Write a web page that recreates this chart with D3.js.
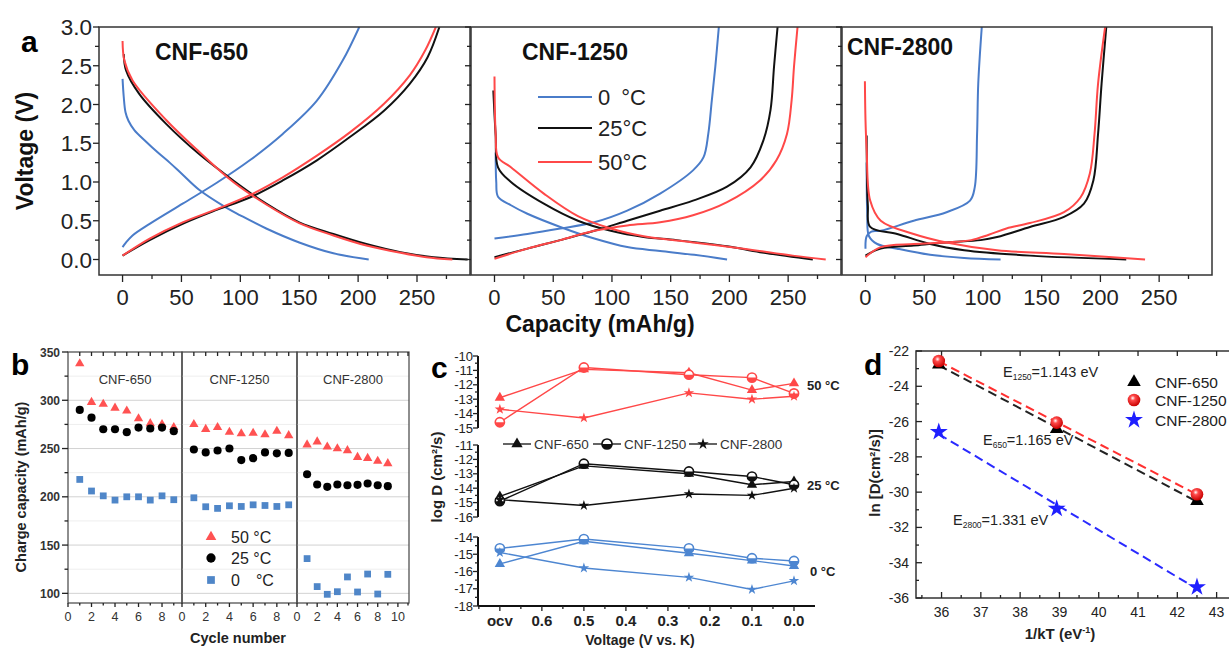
<!DOCTYPE html>
<html>
<head>
<meta charset="utf-8">
<script src="https://cdn.jsdelivr.net/npm/d3@7"></script>
<style>
  body { margin: 0; background: #fff; }
  svg text { font-family: "Liberation Sans", Arial, sans-serif; }
</style>
</head>
<body>
<svg id="fig" width="1229" height="648"></svg>
<script>
// ---------- panel a : voltage profiles [capacity mAh/g, voltage V] ----------
const a650_0C_dis  = [[0,2.33],[1,2.1],[2.5,1.9],[5,1.79],[10,1.67],[20,1.52],[30,1.38],[40,1.25],[50,1.11],[65,0.9],[88,0.67],[100,0.57],[122,0.4],[150,0.22],[179,0.08],[209,0]];
const a650_0C_chg  = [[0,0.16],[3,0.22],[8.5,0.31],[23,0.46],[51,0.72],[80,0.99],[108,1.28],[136,1.62],[165,2.05],[187,2.57],[201,3.0]];
const a650_25C_dis = [[1,2.65],[3,2.44],[14,2.14],[37,1.75],[65,1.36],[94,1.02],[122,0.72],[150,0.48],[179,0.33],[207,0.2],[236,0.095],[264,0.03],[293,0]];
const a650_25C_chg = [[0,0.05],[23,0.25],[51,0.46],[80,0.64],[108,0.8],[136,1.02],[165,1.28],[193,1.58],[222,1.92],[244,2.27],[259,2.61],[269,3.0]];
const a650_50C_dis = [[0,2.82],[1.5,2.57],[8.5,2.31],[37,1.8],[65,1.39],[94,1.0],[122,0.71],[150,0.47],[179,0.31],[207,0.18],[236,0.086],[258,0.03],[280,0]];
const a650_50C_chg = [[0,0.05],[23,0.27],[51,0.48],[80,0.65],[108,0.83],[136,1.06],[165,1.34],[193,1.64],[222,2.01],[244,2.38],[257,2.7],[266,3.0]];

const a1250_0C_dis  = [[1,1.38],[1.5,1.0],[3,0.81],[14,0.7],[28,0.59],[56,0.42],[85,0.27],[113,0.16],[141,0.11],[170,0.06],[198,0]];
const a1250_0C_chg  = [[0,0.27],[28,0.33],[56,0.4],[85,0.48],[113,0.63],[141,0.85],[169,1.15],[178,1.32],[182,1.62],[185,2.05],[188,2.49],[191,3.0]];
const a1250_25C_dis = [[-1,2.18],[1,1.6],[3,1.19],[14,1.0],[42,0.72],[71,0.5],[99,0.37],[127,0.29],[155,0.25],[198,0.17],[226,0.095],[271,0]];
const a1250_25C_chg = [[0,0.03],[28,0.14],[56,0.25],[85,0.37],[113,0.5],[141,0.63],[169,0.76],[198,0.94],[218,1.19],[229,1.54],[235,1.93],[238,2.49],[241,3.0]];
const a1250_50C_dis = [[0,2.36],[1,1.62],[3,1.32],[14,1.19],[42,0.85],[71,0.56],[99,0.4],[127,0.3],[169,0.22],[212,0.14],[254,0.05],[282,0]];
const a1250_50C_chg = [[0,0.01],[28,0.14],[56,0.25],[85,0.37],[113,0.44],[141,0.48],[169,0.57],[198,0.74],[226,1.02],[240,1.28],[249,1.62],[253,2.06],[255,2.49],[258,3.0]];

const a2800_0C_dis  = [[1,1.25],[1.5,0.6],[3,0.3],[10,0.2],[27,0.14],[55,0.06],[84,0.02],[115,0]];
const a2800_0C_chg  = [[0,0.14],[1,0.3],[5,0.36],[13,0.37],[41,0.5],[69,0.61],[89,0.76],[93,0.93],[95,1.62],[96,2.27],[99,3.0]];
const a2800_25C_dis = [[1,1.6],[2,0.7],[4,0.42],[27,0.33],[55,0.2],[84,0.12],[140,0.05],[222,0]];
const a2800_25C_chg = [[0,0.05],[13,0.14],[41,0.18],[69,0.22],[98,0.25],[112,0.29],[140,0.42],[169,0.55],[186,0.72],[194,1.02],[198,1.62],[201,2.27],[205,3.0]];
const a2800_50C_dis = [[-0.5,2.3],[0,1.8],[1,1.41],[4,0.76],[13,0.5],[41,0.33],[69,0.22],[112,0.12],[169,0.07],[238,0]];
const a2800_50C_chg = [[0,0.03],[13,0.16],[41,0.2],[69,0.22],[90,0.25],[105,0.32],[120,0.4],[140,0.47],[169,0.61],[183,0.8],[191,1.11],[195,1.62],[198,2.27],[204,3.0]];

const tempLabels = ["0\u2002°C", "25°C", "50°C"];

// ---------- panel b : charge capacity vs cycle ----------
const cycles = [1,2,3,4,5,6,7,8,9];
const b650_50C  = [338,298,296,292,289,281,276,275,272];
const b650_25C  = [290,282,270,270,267,271.7,270.7,271.7,268];
const b650_0C   = [218,206,201,196.6,200,200,196.6,201,197];
const b1250_50C = [275,270,272,267,265.5,266,264.5,268,263.5];
const b1250_25C = [249,246,248,250,238,240,246,245,245.5];
const b1250_0C  = [199,189.7,188,190.7,190,191.7,191,190,191.7];
const b2800_50C = [254,257,251.7,250,248,241,240,237,234.5];
const b2800_25C = [223.4,212.8,210.3,212.8,212,212.4,213.8,212,211];
const b2800_0C  = [136,107,99,101.7,117,101.4,120,99.3,119.7];

// ---------- panel c : log D vs voltage ----------
const cVolt = [0.7, 0.5, 0.25, 0.1, 0.0];   // 0.7 = ocv
const cXTicks = [0.7,0.6,0.5,0.4,0.3,0.2,0.1,0.0];
const cXLabels = ["ocv","0.6","0.5","0.4","0.3","0.2","0.1","0.0"];
const c50_650  = [-12.9,-10.93,-11.16,-12.37,-11.9];
const c50_1250 = [-14.6,-10.8,-11.3,-11.5,-12.6];
const c50_2800 = [-13.7,-14.3,-12.56,-13.0,-12.8];
const c25_650  = [-14.57,-12.45,-13.0,-13.76,-13.53];
const c25_1250 = [-14.9,-12.3,-12.84,-13.19,-13.76];
const c25_2800 = [-14.8,-15.2,-14.4,-14.5,-14.0];
const c0_650   = [-15.56,-14.25,-14.94,-15.37,-15.68];
const c0_1250  = [-14.66,-14.12,-14.66,-15.23,-15.39];
const c0_2800  = [-14.9,-15.8,-16.34,-17.04,-16.54];

// ---------- panel d : Arrhenius ----------
const invKT = [35.93, 38.93, 42.5];
const d650  = [-22.77,-26.42,-30.5];
const d1250 = [-22.57,-26.06,-30.12];
const d2800 = [-26.59,-30.94,-35.38];
const dNames = ["CNF-650","CNF-1250","CNF-2800"];

const BLUE = "#4a7cc9", RED = "#ff4848", BLACK = "#111";
const FONT_COL = "#222";

const svg = d3.select("#fig");

function ticks(g, scale, vals, orient, len, pos) {
  // simple tick drawer: orient gives direction from the axis line
  vals.forEach(v => {
    const p = scale(v);
    let l;
    if (orient === "left")   l = [pos, p, pos - len, p];
    if (orient === "right")  l = [pos, p, pos + len, p];
    if (orient === "bottom") l = [p, pos, p, pos + len];
    if (orient === "top")    l = [p, pos, p, pos - len];
    g.append("line").attr("x1", l[0]).attr("y1", l[1]).attr("x2", l[2]).attr("y2", l[3])
      .attr("stroke", "#222").attr("stroke-width", 1.3);
  });
}
const range = (a, b, s) => d3.range(a, b + s / 2, s);

// ================= PANEL A =================
const aTop = 27, aBot = 275;
const yA = d3.scaleLinear().domain([-0.2, 3.0]).range([aBot, aTop]);
const aPanels = [
  { x0: 99,  x1: 470,  name: "CNF-650",  nx: 155, ny: 60,
    curves: [[a650_0C_dis, BLUE], [a650_0C_chg, BLUE], [a650_25C_dis, BLACK], [a650_25C_chg, BLACK], [a650_50C_dis, RED], [a650_50C_chg, RED]] },
  { x0: 471, x1: 841,  name: "CNF-1250", nx: 522, ny: 60,
    curves: [[a1250_0C_dis, BLUE], [a1250_0C_chg, BLUE], [a1250_25C_dis, BLACK], [a1250_25C_chg, BLACK], [a1250_50C_dis, RED], [a1250_50C_chg, RED]] },
  { x0: 842, x1: 1212, name: "CNF-2800", nx: 847, ny: 55,
    curves: [[a2800_0C_dis, BLUE], [a2800_0C_chg, BLUE], [a2800_25C_dis, BLACK], [a2800_25C_chg, BLACK], [a2800_50C_dis, RED], [a2800_50C_chg, RED]] }
];

aPanels.forEach((p, i) => {
  const g = svg.append("g");
  const x = d3.scaleLinear().domain([-20, 295]).range([p.x0, p.x1]);
  const clipId = "clipA" + i;
  svg.append("clipPath").attr("id", clipId).append("rect")
    .attr("x", p.x0).attr("y", aTop).attr("width", p.x1 - p.x0).attr("height", aBot - aTop);
  const line = d3.line().x(d => x(d[0])).y(d => yA(d[1])).curve(d3.curveCatmullRom.alpha(0.5));
  const cg = g.append("g").attr("clip-path", `url(#${clipId})`);
  p.curves.forEach(c => {
    cg.append("path").attr("d", line(c[0])).attr("fill", "none")
      .attr("stroke", c[1]).attr("stroke-width", 2);
  });
  g.append("rect").attr("x", p.x0).attr("y", aTop).attr("width", p.x1 - p.x0).attr("height", aBot - aTop)
    .attr("fill", "none").attr("stroke", "#333").attr("stroke-width", 1.5);
  // x ticks
  ticks(g, x, range(0, 250, 50), "bottom", 7, aBot);
  ticks(g, x, range(25, 275, 50), "bottom", 4, aBot);
  range(0, 250, 50).forEach(v => {
    g.append("text").attr("x", x(v)).attr("y", 305).attr("text-anchor", "middle")
      .attr("font-size", 22).attr("fill", FONT_COL).text(v);
  });
  // y ticks
  ticks(g, yA, range(0, 3, 0.5), "left", 6, p.x0);
  ticks(g, yA, range(0.25, 2.75, 0.5), "left", 4, p.x0);
  if (i === 0) {
    range(0, 3, 0.5).forEach(v => {
      g.append("text").attr("x", 92).attr("y", yA(v) + 8).attr("text-anchor", "end")
        .attr("font-size", 22.5).attr("fill", FONT_COL).text(d3.format(".1f")(v));
    });
  }
  g.append("text").attr("x", p.nx).attr("y", p.ny).attr("font-size", 23).attr("font-weight", "bold")
    .attr("fill", "#111").text(p.name);
});

// legend of panel a (in middle panel)
[BLUE, BLACK, RED].forEach((c, i) => {
  const yy = [97, 128, 162][i];
  svg.append("line").attr("x1", 538).attr("x2", 592).attr("y1", yy).attr("y2", yy)
    .attr("stroke", c).attr("stroke-width", 2);
  svg.append("text").attr("x", 598).attr("y", yy + 8).attr("font-size", 22).attr("fill", FONT_COL)
    .text(tempLabels[i]);
});
svg.append("text").attr("x", 21).attr("y", 52).attr("font-size", 30).attr("font-weight", "bold").text("a");
svg.append("text").attr("transform", "translate(33,151) rotate(-90)").attr("text-anchor", "middle")
  .attr("font-size", 23).attr("font-weight", "bold").attr("fill", "#111").text("Voltage (V)");
svg.append("text").attr("x", 600).attr("y", 332).attr("text-anchor", "middle")
  .attr("font-size", 23).attr("font-weight", "bold").attr("fill", "#111").text("Capacity (mAh/g)");

// ================= PANEL B =================
const bTop = 352, bBot = 603;
const yB = d3.scaleLinear().domain([90, 350]).range([bBot, bTop]);
const bPanels = [
  { x0: 68,  x1: 182, dmax: 9.7,  name: "CNF-650",  s: [b650_50C, b650_25C, b650_0C] },
  { x0: 182, x1: 297, dmax: 9.7,  name: "CNF-1250", s: [b1250_50C, b1250_25C, b1250_0C] },
  { x0: 297, x1: 409, dmax: 11.1, name: "CNF-2800", s: [b2800_50C, b2800_25C, b2800_0C] }
];
const bSym = [
  { type: d3.symbolTriangle, size: 38, color: "#ff5252" },
  { type: d3.symbolCircle,   size: 52, color: "#000" },
  { type: d3.symbolSquare,   size: 46, color: "#4f86c8" }
];
bPanels.forEach((p, i) => {
  const g = svg.append("g");
  const x = d3.scaleLinear().domain([0, p.dmax]).range([p.x0, p.x1]);
  // grid
  range(100, 300, 50).forEach(v => g.append("line").attr("x1", p.x0).attr("x2", p.x1)
    .attr("y1", yB(v)).attr("y2", yB(v)).attr("stroke", "#d2d2d2").attr("stroke-width", 1));
  range(125, 325, 50).forEach(v => g.append("line").attr("x1", p.x0).attr("x2", p.x1)
    .attr("y1", yB(v)).attr("y2", yB(v)).attr("stroke", "#eeeeee").attr("stroke-width", 1));
  g.append("rect").attr("x", p.x0).attr("y", bTop).attr("width", p.x1 - p.x0).attr("height", bBot - bTop)
    .attr("fill", "none").attr("stroke", "#444").attr("stroke-width", 1.2);
  const maxT = Math.floor(p.dmax);
  ticks(g, x, range(1, maxT, 1), "bottom", 4, bTop);
  ticks(g, x, range(0, maxT, 2), "bottom", 4, bBot);
  ticks(g, x, range(1, maxT, 2), "bottom", 2.5, bBot);
  range(0, maxT, 2).forEach(v => g.append("text").attr("x", x(v)).attr("y", 621)
    .attr("text-anchor", "middle").attr("font-size", 12.5).attr("fill", "#333").text(v));
  p.s.forEach((vals, k) => {
    g.selectAll(null).data(cycles).enter().append("path")
      .attr("d", d3.symbol().type(bSym[k].type).size(bSym[k].size))
      .attr("transform", (d, j) => `translate(${x(d)},${yB(vals[j])})`)
      .attr("fill", bSym[k].color);
  });
  g.append("text").attr("x", (p.x0 + p.x1) / 2).attr("y", 384)
    .attr("text-anchor", "middle").attr("font-size", 13).attr("fill", "#333").text(p.name);
});
{
  const g = svg.append("g");
  ticks(g, yB, range(100, 350, 50), "left", 6, 68);
  ticks(g, yB, range(125, 325, 50), "left", 3.5, 68);
  range(100, 350, 50).forEach(v => g.append("text").attr("x", 60).attr("y", yB(v) + 4.5)
    .attr("text-anchor", "end").attr("font-size", 12).attr("font-weight", "bold").attr("fill", "#333").text(v));
  // legend
  const labs = ["50 °C", "25 °C", "0\u2002\u2002°C"];
  [537, 558, 580].forEach((yy, k) => {
    g.append("path").attr("d", d3.symbol().type(bSym[k].type).size(bSym[k].size * 1.3))
      .attr("transform", `translate(211,${yy})`).attr("fill", bSym[k].color);
    g.append("text").attr("x", 231).attr("y", yy + 6).attr("font-size", 16).attr("fill", "#222").text(labs[k]);
  });
  g.append("text").attr("x", 11).attr("y", 375).attr("font-size", 30).attr("font-weight", "bold").text("b");
  g.append("text").attr("transform", "translate(26,487) rotate(-90)").attr("text-anchor", "middle")
    .attr("font-size", 14.5).attr("font-weight", "bold").attr("fill", "#222").text("Charge capacity (mAh/g)");
  g.append("text").attr("x", 238).attr("y", 643).attr("text-anchor", "middle")
    .attr("font-size", 14.5).attr("font-weight", "bold").attr("fill", "#222").text("Cycle number");
}

// ================= PANEL C =================
const xC = d3.scaleLinear().domain([0.752, -0.05]).range([478, 815]);
const cSubs = [
  { dom: [-15, -10], rng: [428, 356], color: RED,   s: [c50_650, c50_1250, c50_2800], lab: "50 °C", lx: 807, ly: 390 },
  { dom: [-16, -11], rng: [517, 445], color: BLACK, s: [c25_650, c25_1250, c25_2800], lab: "25 °C", lx: 807, ly: 490 },
  { dom: [-18, -14], rng: [606, 537], color: "#4d86d1", s: [c0_650, c0_1250, c0_2800], lab: "0 °C", lx: 810, ly: 576 }
];
function cMarker(g, k, cx, cy, color, scale) {
  const sc = scale || 1;
  if (k === 0) {
    g.append("path").attr("d", d3.symbol().type(d3.symbolTriangle).size(46 * sc * sc))
      .attr("transform", `translate(${cx},${cy})`).attr("fill", color);
  } else if (k === 1) {
    const r = 4.6 * sc;
    g.append("circle").attr("cx", cx).attr("cy", cy).attr("r", r).attr("fill", "#fff")
      .attr("stroke", color).attr("stroke-width", 1.6);
    g.append("path").attr("d", `M${cx - r},${cy} A${r},${r} 0 0 0 ${cx + r},${cy} Z`).attr("fill", color);
  } else {
    g.append("path").attr("d", d3.symbol().type(d3.symbolStar).size(34 * sc * sc))
      .attr("transform", `translate(${cx},${cy})`).attr("fill", color);
  }
}
cSubs.forEach(sub => {
  const g = svg.append("g");
  const y = d3.scaleLinear().domain(sub.dom).range(sub.rng);
  g.append("line").attr("x1", 478).attr("x2", 478).attr("y1", sub.rng[1]).attr("y2", sub.rng[0])
    .attr("stroke", "#111").attr("stroke-width", 2);
  ticks(g, y, range(sub.dom[0], sub.dom[1], 1), "left", 5, 478);
  ticks(g, y, range(sub.dom[0] + 0.5, sub.dom[1] - 0.5, 1), "left", 3, 478);
  range(sub.dom[0], sub.dom[1], 1).forEach(v => g.append("text").attr("x", 473).attr("y", y(v) + 4.5)
    .attr("text-anchor", "end").attr("font-size", 13).attr("fill", "#222").text(String(v)));
  const line = d3.line().x((d, j) => xC(cVolt[j])).y(d => y(d));
  sub.s.forEach(vals => {
    g.append("path").attr("d", line(vals)).attr("fill", "none").attr("stroke", sub.color).attr("stroke-width", 1.4);
  });
  sub.s.forEach((vals, k) => {
    vals.forEach((v, j) => cMarker(g, k, xC(cVolt[j]), y(v), sub.color));
  });
  g.append("text").attr("x", sub.lx).attr("y", sub.ly).attr("font-size", 13).attr("font-weight", "bold")
    .attr("fill", "#222").text(sub.lab);
});
{
  const g = svg.append("g");
  g.append("line").attr("x1", 478).attr("x2", 815).attr("y1", 606).attr("y2", 606).attr("stroke", "#111").attr("stroke-width", 2);
  ticks(g, xC, range(0, 0.7, 0.1), "bottom", 5, 606);
  ticks(g, xC, range(0.05, 0.75, 0.1), "bottom", 3, 606);
  cXTicks.forEach((v, j) => g.append("text").attr("x", xC(v)).attr("y", 626).attr("text-anchor", "middle")
    .attr("font-size", 15).attr("font-weight", "bold").attr("fill", "#222").text(cXLabels[j]));
  // legend
  const names = ["CNF-650", "CNF-1250", "CNF-2800"];
  [503, 593, 689].forEach((lx, k) => {
    g.append("line").attr("x1", lx).attr("x2", lx + 28).attr("y1", 444).attr("y2", 444).attr("stroke", "#111").attr("stroke-width", 1.3);
    cMarker(g, k, lx + 14, 444, "#111", 1.1);
    g.append("text").attr("x", lx + 31).attr("y", 449).attr("font-size", 13.5).attr("fill", "#333").text(names[k]);
  });
  g.append("text").attr("x", 431).attr("y", 378).attr("font-size", 30).attr("font-weight", "bold").text("c");
  g.append("text").attr("transform", "translate(442,477) rotate(-90)").attr("text-anchor", "middle")
    .attr("font-size", 15).attr("font-weight", "bold").attr("fill", "#222").text("log D (cm²/s)");
  g.append("text").attr("x", 640).attr("y", 645).attr("text-anchor", "middle")
    .attr("font-size", 14).attr("font-weight", "bold").attr("fill", "#222").text("Voltage (V vs. K)");
}

// ================= PANEL D =================
const xD = d3.scaleLinear().domain([35.35, 43.45]).range([916, 1234.3]);
const yD = d3.scaleLinear().domain([-36, -22]).range([598, 351]);
{
  const defs = svg.append("defs");
  const grad = defs.append("radialGradient").attr("id", "redBall").attr("cx", "40%").attr("cy", "35%").attr("r", "65%");
  grad.append("stop").attr("offset", "0%").attr("stop-color", "#fff");
  grad.append("stop").attr("offset", "30%").attr("stop-color", "#ff4a4a");
  grad.append("stop").attr("offset", "100%").attr("stop-color", "#c80000");

  const g = svg.append("g");
  g.append("rect").attr("x", 916).attr("y", 351).attr("width", 330).attr("height", 247)
    .attr("fill", "none").attr("stroke", "#333").attr("stroke-width", 1.5);
  ticks(g, yD, range(-36, -22, 2), "right", 6, 916);
  ticks(g, yD, range(-35, -23, 2), "right", 3, 916);
  ticks(g, xD, range(36, 43, 1), "top", 6, 598);
  ticks(g, xD, range(35.5, 43, 1), "top", 3, 598);
  ticks(g, xD, range(36, 43, 1), "bottom", 5, 351);
  range(-36, -22, 2).forEach(v => g.append("text").attr("x", 909).attr("y", yD(v) + 5)
    .attr("text-anchor", "end").attr("font-size", 14).attr("fill", "#222").text(String(v)));
  range(36, 43, 1).forEach(v => g.append("text").attr("x", xD(v)).attr("y", 617)
    .attr("text-anchor", "middle").attr("font-size", 14).attr("fill", "#222").text(v));

  const series = [
    { vals: d650,  color: "#222" },
    { vals: d1250, color: "#ff3030" },
    { vals: d2800, color: "#2a2aff" }
  ];
  // least-squares fit lines (dashed)
  series.forEach(s => {
    const mx = d3.mean(invKT), my = d3.mean(s.vals);
    const slope = d3.sum(invKT, (xv, j) => (xv - mx) * (s.vals[j] - my)) / d3.sum(invKT, xv => (xv - mx) ** 2);
    const b = my - slope * mx;
    const x1 = invKT[0], x2 = invKT[invKT.length - 1];
    g.append("line").attr("x1", xD(x1)).attr("y1", yD(slope * x1 + b)).attr("x2", xD(x2)).attr("y2", yD(slope * x2 + b))
      .attr("stroke", s.color).attr("stroke-width", 2).attr("stroke-dasharray", "9,5");
  });
  function dMarker(k, cx, cy) {
    if (k === 0) g.append("path").attr("d", d3.symbol().type(d3.symbolTriangle).size(80))
      .attr("transform", `translate(${cx},${cy})`).attr("fill", "#000");
    else if (k === 1) g.append("circle").attr("cx", cx).attr("cy", cy).attr("r", 6.3).attr("fill", "url(#redBall)");
    else g.append("path").attr("d", d3.symbol().type(d3.symbolStar).size(100))
      .attr("transform", `translate(${cx},${cy})`).attr("fill", "#1f1fff");
  }
  series.forEach((s, k) => s.vals.forEach((v, j) => dMarker(k, xD(invKT[j]), yD(v))));
  // legend
  [382, 400, 420].forEach((yy, k) => {
    dMarker(k, 1134, yy);
    g.append("text").attr("x", 1155).attr("y", yy + 6).attr("font-size", 15.5).attr("fill", "#222").text(dNames[k]);
  });
  // annotations
  const ann = [["1250", "=1.143 eV", 1003, 377], ["650", "=1.165 eV", 983, 445], ["2800", "=1.331 eV", 953, 525]];
  ann.forEach(a => {
    const t = g.append("text").attr("x", a[2]).attr("y", a[3]).attr("font-size", 14.5).attr("fill", "#222");
    t.append("tspan").text("E");
    t.append("tspan").attr("font-size", 8.5).attr("dy", 3).text(a[0]);
    t.append("tspan").attr("dy", -3).text(a[1]);
  });
  g.append("text").attr("x", 864).attr("y", 375).attr("font-size", 30).attr("font-weight", "bold").text("d");
  g.append("text").attr("transform", "translate(880,473) rotate(-90)").attr("text-anchor", "middle")
    .attr("font-size", 15).attr("font-weight", "bold").attr("fill", "#222").text("ln [D(cm²/s)]");
  const xl = g.append("text").attr("x", 1060).attr("y", 639).attr("text-anchor", "middle")
    .attr("font-size", 15).attr("font-weight", "bold").attr("fill", "#222");
  xl.append("tspan").text("1/kT (eV");
  xl.append("tspan").attr("font-size", 9).attr("dy", -6).text("-1");
  xl.append("tspan").attr("dy", 6).text(")");
}
</script>
</body>
</html>
